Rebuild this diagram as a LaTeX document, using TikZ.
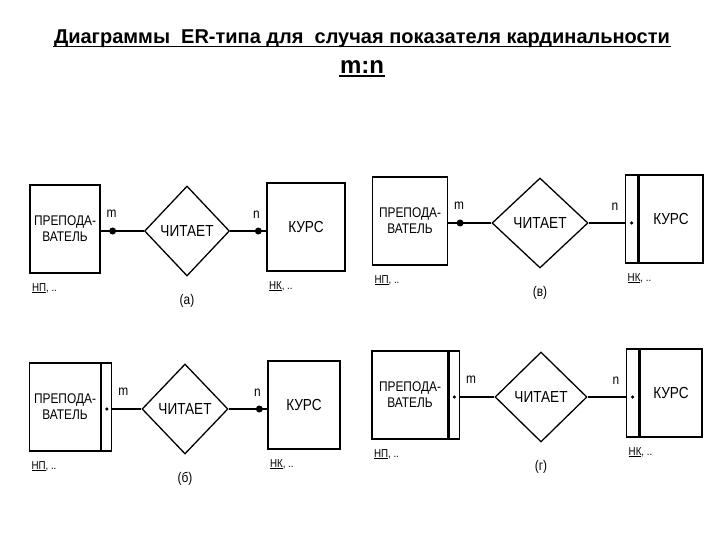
\documentclass[tikz,border=0pt]{standalone}
\usepackage{fontspec}
\setmainfont{Liberation Sans}
\newfontfamily\erfont[FakeStretch=0.85]{Liberation Sans}
\usetikzlibrary{shapes.geometric}
\usetikzlibrary{calc}

\begin{document}
\begin{tikzpicture}[x=1pt,y=-1pt,line width=1.3pt,
  ent/.style={draw,inner sep=0pt,minimum height=88pt,align=center,font=\erfont\fontsize{14}{16}\selectfont},
  rel/.style={draw,diamond,inner sep=0pt,minimum height=90pt,font=\erfont\fontsize{16}{18}\selectfont},
  bar/.style={draw,inner sep=0pt,minimum height=88pt},
  dot/.style={fill,circle,inner sep=0pt,minimum size=7pt},
  sdot/.style={fill,circle,inner sep=0pt,minimum size=3.5pt},
  lab/.style={font=\erfont\fontsize{14}{16}\selectfont,inner sep=0pt},
  key/.style={font=\erfont\fontsize{11.5}{13}\selectfont,inner sep=0pt}]
\useasboundingbox (0,0) rectangle (720,540);
\node[font=\bfseries\fontsize{20}{24}\selectfont,inner sep=0pt] (head) at (362,39) {Диаграммы\ \ ER-типа для\ \ случая показателя кардинальности};
\node[font=\bfseries\fontsize{24}{28}\selectfont,inner sep=0pt] (mn) at (362,67) {m:n};
\draw ([yshift=-2.5pt]head.base west) -- ([yshift=-2.5pt]head.base east);
\draw ([yshift=-2.5pt]mn.base west) -- ([yshift=-2.5pt]mn.base east);

\foreach \p/\lb/\rb/\tx/\tw/\dx/\dw/\cx/\cw/\ly/\plab in {
  a/0/0/65/70/187/85/306/78/231/а,
  b/1/0/65/71/185/86/304/72/409/б,
  v/0/1/410/75/540/96/671/64/223/в,
  g/1/1/410/76/541/92/671/62/397/г} {

  \node[ent,minimum width=\tw] (t\p) at (\tx,\ly-2) {ПРЕПОДА-\\ВАТЕЛЬ};
  \node[rel,minimum width=\dw] (r\p) at (\dx,\ly) {ЧИТАЕТ};
  \node[ent,minimum width=\cw,font=\erfont\fontsize{16}{18}\selectfont] (c\p) at (\cx,\ly-4) {КУРС};

  \ifnum\lb=1
    \node[bar,minimum width=10,anchor=west] (tb\p) at (t\p.east) {};
    \coordinate (tl\p) at (tb\p.east);
    \node[sdot] (dl\p) at (tb\p.center |- r\p) {};
  \else
    \coordinate (tl\p) at (t\p.east);
    \node[dot] (dl\p) at ($(tl\p |- r\p)+(12,0)$) {};
  \fi
  \ifnum\rb=1
    \node[bar,minimum width=12,anchor=east] (cb\p) at (c\p.west) {};
    \coordinate (cl\p) at (cb\p.west);
    \node[sdot] (dr\p) at (cb\p.center |- r\p) {};
  \else
    \coordinate (cl\p) at (c\p.west);
    \node[dot] (dr\p) at ($(cl\p |- r\p)+(-8,0)$) {};
  \fi

  \draw (tl\p |- r\p) -- (r\p);
  \draw (r\p) -- (cl\p |- r\p);
  \node[lab,anchor=south] (m\p) at ($(tl\p |- r\p)+(11,-13)$) {m};
  \node[lab,anchor=south] (n\p) at ($(cl\p |- r\p)+(-10,-12)$) {n};
  \node[key,anchor=north west] (kt\p) at ($(t\p.south west)+(2,9)$) {\underline{НП}, ..};
  \node[key,anchor=north west] (kc\p) at ($(cl\p |- c\p.south)+(2,9)$) {\underline{НК}, ..};
  \node[lab] (p\p) at (\dx,\ly+70) {(\plab)};
}
\end{tikzpicture}
\end{document}
